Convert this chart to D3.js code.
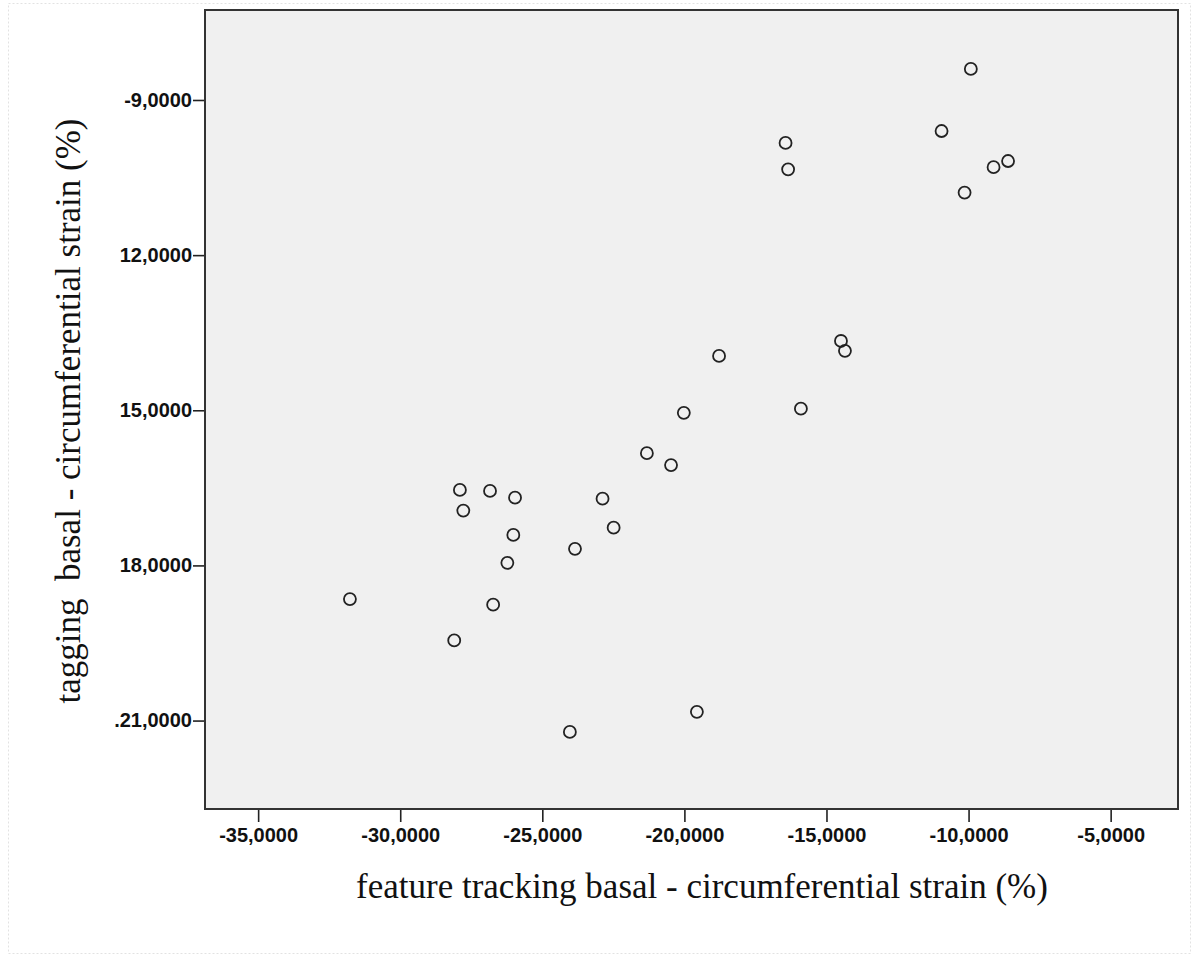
<!DOCTYPE html>
<html>
<head>
<meta charset="utf-8">
<script src="https://cdn.jsdelivr.net/npm/d3@7"></script>
<style>
  body { margin: 0; background: #fff; }
  svg { display: block; }
  .tick text { font-family: "Liberation Sans", Arial, sans-serif; font-weight: bold; font-size: 20px; fill: #111; }
  .axis-title { font-family: "Liberation Serif", "Times New Roman", serif; font-size: 35px; fill: #111; white-space: pre; }
</style>
</head>
<body>
<script>
// feature tracking basal circumferential strain (%)
const ftStrain = [
  -9.92, -10.95, -16.44, -16.35, -8.61, -9.12, -10.14,
  -14.49, -14.35, -18.78, -15.90, -20.02, -21.32, -20.47,
  -27.90, -26.84, -25.96, -22.88, -27.78, -22.49, -26.02,
  -23.85, -26.23, -31.77, -26.73, -28.10, -19.56, -24.03
];
// tagging basal circumferential strain (%)
const tagStrain = [
  -8.40, -9.60, -9.83, -10.34, -10.18, -10.30, -10.79,
  -13.66, -13.85, -13.95, -14.97, -15.05, -15.83, -16.06,
  -16.54, -16.56, -16.69, -16.71, -16.94, -17.27, -17.41,
  -17.68, -17.95, -18.65, -18.76, -19.45, -20.83, -21.22
];

const xTicks = [-35, -30, -25, -20, -15, -10, -5];
const xTickLabels = ["-35,0000", "-30,0000", "-25,0000", "-20,0000", "-15,0000", "-10,0000", "-5,0000"];
const yTicks = [-9, -12, -15, -18, -21];
const yTickLabels = ["-9,0000", "12,0000", "15,0000", "18,0000", ".21,0000"];

const xDomain = [-36.87, -2.63];
const yDomain = [-22.71, -7.26];

const width = 1200, height = 957;
const plot = { left: 205, top: 10, right: 1178, bottom: 809 };

const svg = d3.select("body")
  .append("svg")
  .attr("width", width)
  .attr("height", height);

// faint outer frame
svg.append("rect")
  .attr("x", 8.5).attr("y", 3.5)
  .attr("width", 1182).attr("height", 950)
  .attr("fill", "none")
  .attr("stroke", "#e2e2e2")
  .attr("stroke-dasharray", "2,2");

const x = d3.scaleLinear().domain(xDomain).range([plot.left, plot.right]);
const y = d3.scaleLinear().domain(yDomain).range([plot.bottom, plot.top]);

// plot background
svg.append("rect")
  .attr("x", plot.left).attr("y", plot.top)
  .attr("width", plot.right - plot.left)
  .attr("height", plot.bottom - plot.top)
  .attr("fill", "#f0f0f0");

// axes
const xAxis = svg.append("g")
  .attr("transform", `translate(0,${plot.bottom})`)
  .call(d3.axisBottom(x)
    .tickValues(xTicks)
    .tickFormat((d, i) => xTickLabels[i])
    .tickSize(13)
    .tickPadding(6));
xAxis.select(".domain").remove();

const yAxis = svg.append("g")
  .attr("transform", `translate(${plot.left},0)`)
  .call(d3.axisLeft(y)
    .tickValues(yTicks)
    .tickFormat((d, i) => yTickLabels[i])
    .tickSize(12)
    .tickPadding(1));
yAxis.select(".domain").remove();

svg.selectAll(".tick line").attr("stroke", "#222").attr("stroke-width", 1.6);

// frame
svg.append("rect")
  .attr("x", plot.left).attr("y", plot.top)
  .attr("width", plot.right - plot.left)
  .attr("height", plot.bottom - plot.top)
  .attr("fill", "none")
  .attr("stroke", "#333")
  .attr("stroke-width", 2);

// points
svg.append("g")
  .selectAll("circle")
  .data(ftStrain.map((v, i) => [v, tagStrain[i]]))
  .join("circle")
  .attr("cx", d => x(d[0]))
  .attr("cy", d => y(d[1]))
  .attr("r", 6)
  .attr("fill", "none")
  .attr("stroke", "#222")
  .attr("stroke-width", 1.8);

// axis titles
svg.append("text")
  .attr("class", "axis-title")
  .attr("x", 702)
  .attr("y", 898)
  .attr("text-anchor", "middle")
  .text("feature tracking basal - circumferential strain (%)");

svg.append("text")
  .attr("class", "axis-title")
  .attr("transform", "translate(80,411) rotate(-90)")
  .attr("text-anchor", "middle")
  .text("tagging  basal - circumferential strain (%)");
</script>
</body>
</html>
